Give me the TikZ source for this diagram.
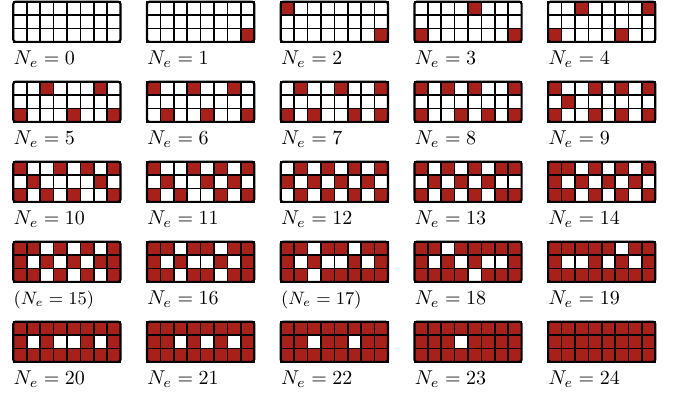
\documentclass[tikz,border=0pt]{standalone}
\usetikzlibrary{positioning}
\definecolor{occred}{RGB}{168,32,26}
\tikzset{
  cell/.style={draw=black, line width=0.8pt},
  c0/.style={fill=white},
  c1/.style={fill=occred},
  frame/.style={draw=black, line width=1.1pt, rounded corners=1.2pt},
  nlabel/.style={inner sep=0pt, anchor=base west, font=\normalsize}
}
\newcommand{\cellsize}{13.4}

\begin{document}
\begin{tikzpicture}[x=0.5pt, y=-0.5pt]
  \useasboundingbox (0,0) rectangle (683,399);
  % one grid per filling, 8x3 cells, rows read top to bottom
  \foreach \n/\lab/\cells in {
    0/{$N_e = 0$}/{0,0,0,0,0,0,0,0, 0,0,0,0,0,0,0,0, 0,0,0,0,0,0,0,0},
    1/{$N_e = 1$}/{0,0,0,0,0,0,0,0, 0,0,0,0,0,0,0,0, 0,0,0,0,0,0,0,1},
    2/{$N_e = 2$}/{1,0,0,0,0,0,0,0, 0,0,0,0,0,0,0,0, 0,0,0,0,0,0,0,1},
    3/{$N_e = 3$}/{0,0,0,0,1,0,0,0, 0,0,0,0,0,0,0,0, 1,0,0,0,0,0,0,1},
    4/{$N_e = 4$}/{0,0,1,0,0,0,0,1, 0,0,0,0,0,0,0,0, 1,0,0,0,0,1,0,0},
    5/{$N_e = 5$}/{0,0,1,0,0,0,1,0, 0,0,0,0,0,0,0,0, 1,0,0,0,1,0,0,1},
    6/{$N_e = 6$}/{1,0,0,1,0,0,1,0, 0,0,0,0,0,0,0,0, 0,1,0,0,1,0,0,1},
    7/{$N_e = 7$}/{0,1,0,0,1,0,0,1, 0,0,0,0,0,0,0,0, 1,0,1,0,0,1,0,1},
    8/{$N_e = 8$}/{1,0,1,0,1,0,0,1, 0,0,0,0,0,0,0,0, 1,0,0,1,0,1,0,1},
    9/{$N_e = 9$}/{1,0,0,1,0,1,0,1, 0,1,0,0,0,0,0,0, 1,0,0,1,0,1,0,1},
    10/{$N_e = 10$}/{1,0,0,1,0,1,0,1, 0,1,0,0,0,0,1,0, 1,0,1,0,1,0,0,1},
    11/{$N_e = 11$}/{1,0,0,1,0,1,0,1, 0,1,0,0,1,0,1,0, 1,0,1,0,0,1,0,1},
    12/{$N_e = 12$}/{0,1,0,1,0,1,0,1, 1,0,1,0,1,0,1,0, 0,1,0,1,0,1,0,1},
    13/{$N_e = 13$}/{1,0,1,0,1,0,1,1, 0,1,0,1,0,1,0,0, 1,0,1,0,1,0,1,1},
    14/{$N_e = 14$}/{1,1,0,1,0,1,0,1, 1,0,1,0,1,0,1,0, 1,1,0,1,0,1,0,1},
    15/{\small$(N_e = 15)$}/{1,1,0,1,0,1,0,1, 1,0,1,0,1,0,1,1, 1,1,0,1,0,1,0,1},
    16/{$N_e = 16$}/{1,1,0,1,1,0,1,1, 1,0,1,0,0,1,0,1, 1,1,0,1,1,0,1,1},
    17/{\small$(N_e = 17)$}/{1,1,0,1,1,0,1,1, 1,0,1,0,0,1,0,1, 1,1,0,1,1,1,1,1},
    18/{$N_e = 18$}/{1,1,0,1,1,1,1,1, 1,0,1,0,1,0,0,1, 1,1,1,1,0,1,1,1},
    19/{$N_e = 19$}/{1,1,1,1,1,0,1,1, 1,0,0,1,0,1,0,1, 1,1,1,1,1,1,1,1},
    20/{$N_e = 20$}/{1,1,1,1,1,1,1,1, 1,0,1,0,0,1,0,1, 1,1,1,1,1,1,1,1},
    21/{$N_e = 21$}/{1,1,1,1,1,1,1,1, 1,1,0,1,0,1,0,1, 1,1,1,1,1,1,1,1},
    22/{$N_e = 22$}/{1,1,1,1,1,1,1,1, 1,1,0,1,1,0,1,1, 1,1,1,1,1,1,1,1},
    23/{$N_e = 23$}/{1,1,1,1,1,1,1,1, 1,1,1,0,1,1,1,1, 1,1,1,1,1,1,1,1},
    24/{$N_e = 24$}/{1,1,1,1,1,1,1,1, 1,1,1,1,1,1,1,1, 1,1,1,1,1,1,1,1}}{%
    \pgfmathsetmacro{\gx}{13.3+133.7*mod(\n,5)}
    \pgfmathsetmacro{\gy}{1.7+80*div(\n,5)}
    \foreach \v [count=\i from 0] in \cells{%
      \pgfmathtruncatemacro{\cc}{mod(\i,8)}
      \pgfmathtruncatemacro{\rr}{div(\i,8)}
      \draw[cell, c\v] (\gx+\cellsize*\cc, \gy+\cellsize*\rr)
        rectangle ++(\cellsize, \cellsize);}
    \draw[frame] (\gx, \gy) rectangle ++(8*\cellsize, 3*\cellsize);
    \node[nlabel] (lab\n) at (\gx, \gy+63.3) {\lab};
  }
\end{tikzpicture}
\end{document}
